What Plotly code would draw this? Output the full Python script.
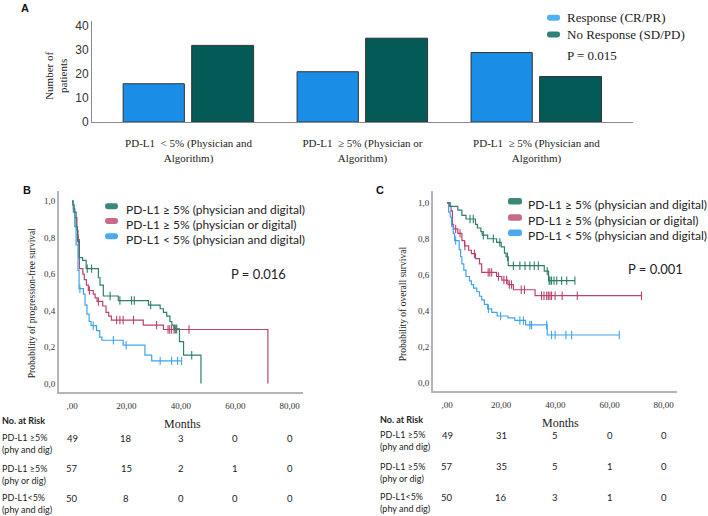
import plotly.graph_objects as go

W, H = 708, 516

# ---------------- Panel A data ----------------
groups_A = [
    "PD-L1  < 5% (Physician and<br>Algorithm)",
    "PD-L1  \u2265 5% (Physician or<br>Algorithm)",
    "PD-L1  \u2265 5% (Physician and<br>Algorithm)",
]
response_A = [16, 21, 29]
no_response_A = [32, 35, 19]
yticks_A = [0, 10, 20, 30, 40]

# ---------------- Panel B (PFS) data ----------------
pfs_and_t = [0.3, 0.8, 1.5, 2.0, 2.6, 3.9, 5.2, 9.7, 10.3, 11.5, 17.0, 28.1, 32.4, 33.6, 34.8, 36.0, 36.7, 37.5, 39.5, 41.0, 47.4]
pfs_and_s = [0.98, 0.94, 0.86, 0.78, 0.69, 0.675, 0.63, 0.58, 0.54, 0.48, 0.455, 0.43, 0.41, 0.39, 0.37, 0.34, 0.32, 0.30, 0.23, 0.155, 0.0]
pfs_and_cens = [5.6, 7.2, 14.0, 17.6, 21.9, 22.9, 28.9, 37.9, 38.5, 44.0]

pfs_or_t = [0.5, 1.0, 1.8, 2.2, 2.7, 4.0, 4.5, 5.3, 6.0, 7.8, 8.5, 9.2, 11.3, 12.5, 13.5, 14.5, 26.2, 33.6, 72.0]
pfs_or_s = [0.96, 0.91, 0.84, 0.79, 0.63, 0.60, 0.57, 0.54, 0.51, 0.49, 0.47, 0.45, 0.425, 0.39, 0.37, 0.348, 0.32, 0.296, 0.0]
pfs_or_cens = [2.3, 6.4, 9.7, 16.4, 17.6, 18.8, 22.6, 31.1, 35.3, 35.9, 36.6, 37.5, 38.2, 43.0]

pfs_low_t = [0.5, 1.0, 1.5, 2.2, 2.6, 4.2, 4.8, 5.5, 6.3, 7.0, 9.0, 10.2, 11.0, 18.8, 26.8, 29.3]
pfs_low_s = [0.94, 0.86, 0.76, 0.62, 0.52, 0.49, 0.43, 0.38, 0.34, 0.317, 0.29, 0.254, 0.237, 0.21, 0.156, 0.124]
pfs_low_cens = [2.9, 7.8, 15.2, 19.9, 32.4, 36.6, 38.8, 40.3]

# ---------------- Panel C (OS) data ----------------
os_and_t = [1.2, 4.0, 5.5, 7.0, 10.5, 11.2, 12.5, 13.0, 15.0, 18.3, 20.0, 21.2, 21.8, 22.6, 35.9, 37.5]
os_and_s = [0.98, 0.96, 0.93, 0.91, 0.88, 0.86, 0.84, 0.82, 0.80, 0.78, 0.755, 0.72, 0.70, 0.65, 0.62, 0.567]
os_and_cens = [8.5, 9.7, 13.4, 17.1, 19.5, 22.3, 24.5, 26.9, 28.8, 30.6, 32.2, 33.7, 37.0, 37.7, 38.0, 38.6, 39.5, 40.5, 42.3, 44.2, 47.2]

os_or_t = [0.8, 1.5, 2.0, 2.4, 4.0, 5.5, 6.5, 8.0, 9.0, 10.5, 12.0, 12.8, 18.3, 20.2, 22.5, 24.5, 32.5]
os_or_s = [0.98, 0.955, 0.88, 0.855, 0.83, 0.79, 0.76, 0.736, 0.717, 0.69, 0.66, 0.613, 0.59, 0.57, 0.545, 0.516, 0.483]
os_or_cens = [3.2, 4.8, 6.6, 10.1, 15.2, 15.8, 16.5, 19.0, 21.0, 22.0, 23.0, 23.8, 27.4, 28.6, 34.9, 35.8, 36.8, 37.4, 38.0, 38.6, 39.9, 42.5, 48.1, 71.8]

os_low_t = [0.6, 1.2, 1.7, 2.3, 2.8, 4.5, 5.0, 5.5, 6.2, 7.0, 8.3, 9.0, 9.8, 11.0, 12.0, 12.8, 13.8, 15.0, 16.5, 18.5, 22.5, 25.0, 29.0, 37.0]
os_low_s = [0.95, 0.92, 0.87, 0.83, 0.79, 0.74, 0.70, 0.66, 0.625, 0.59, 0.565, 0.545, 0.525, 0.505, 0.48, 0.46, 0.435, 0.41, 0.39, 0.37, 0.36, 0.345, 0.32, 0.264]
os_low_cens = [3.2, 15.3, 19.8, 26.9, 28.2, 30.6, 31.2, 36.8, 38.6, 39.9, 43.9, 46.0, 63.6]

km_ticks = [0, 20, 40, 60, 80]
km_ticktext = [",00", "20,00", "40,00", "60,00", "80,00"]
surv_ticks = [0, 0.2, 0.4, 0.6, 0.8, 1.0]
surv_ticktext = ["0,0", "0,2", "0,4", "0,6", "0,8", "1,0"]

legend_labels = [
    "PD-L1 \u2265 5% (physician and digital)",
    "PD-L1 \u2265 5% (physician or digital)",
    "PD-L1 < 5% (physician and digital)",
]
risk_labels = ["PD-L1 \u22655%<br>(phy and dig)", "PD-L1 \u22655%<br>(phy or dig)", "PD-L1<5%<br>(phy and dig)"]
risk_B = [[49, 18, 3, 0, 0], [57, 15, 2, 1, 0], [50, 8, 0, 0, 0]]
risk_C = [[49, 31, 5, 0, 0], [57, 35, 5, 1, 0], [50, 16, 3, 1, 0]]

# ---------------- styling ----------------
SERIF = "Liberation Serif"
SANS = "Lato"
ARIAL = "Liberation Sans"
C_RESP = "#1a8de6"
C_NORESP = "#045a56"
KM_COLS = ["#2f7d6d", "#b8436f", "#40a4ea"]
SW_COLS = ["#3a8878", "#c9698c", "#4aa9ef"]
LATO_SHIFT = -3  # Lato renders slightly high


def X(x):
    return x / W


def Y(y):
    return 1 - y / H


def step_xy(times, surv):
    xs = [0.0] + list(times)
    ys = [1.0] + list(surv)
    return xs, ys


def surv_at(times, surv, t):
    s = 1.0
    for ti, si in zip(times, surv):
        if ti <= t:
            s = si
    return s


fig = go.Figure()

# Panel A bars
fig.add_trace(go.Bar(x=[0, 1, 2], y=response_A, width=0.352, offset=-0.376,
                     marker=dict(color=C_RESP, line=dict(color="#333333", width=1)),
                     xaxis="x", yaxis="y", showlegend=False))
fig.add_trace(go.Bar(x=[0, 1, 2], y=no_response_A, width=0.356, offset=0.018,
                     marker=dict(color=C_NORESP, line=dict(color="#333333", width=1)),
                     xaxis="x", yaxis="y", showlegend=False))


# KM curves
def add_km(times, surv, cens, color, xa, ya, t_end=None):
    xs, ys = step_xy(times, surv)
    if t_end is not None and t_end > xs[-1]:
        xs.append(t_end)
        ys.append(ys[-1])
    fig.add_trace(go.Scatter(x=xs, y=ys, mode="lines", line=dict(color=color, width=1.2, shape="hv"),
                             xaxis=xa, yaxis=ya, showlegend=False, hoverinfo="skip"))
    cy = [surv_at(times, surv, t) for t in cens]
    fig.add_trace(go.Scatter(x=cens, y=cy, mode="markers",
                             marker=dict(symbol="line-ns", size=6, line=dict(color=color, width=1.1)),
                             xaxis=xa, yaxis=ya, showlegend=False, hoverinfo="skip"))


add_km(pfs_or_t, pfs_or_s, pfs_or_cens, KM_COLS[1], "x2", "y2")
add_km(pfs_low_t, pfs_low_s, pfs_low_cens, KM_COLS[2], "x2", "y2", t_end=max(pfs_low_cens))
add_km(pfs_and_t, pfs_and_s, pfs_and_cens, KM_COLS[0], "x2", "y2")

add_km(os_or_t, os_or_s, os_or_cens, KM_COLS[1], "x3", "y3", t_end=max(os_or_cens))
add_km(os_low_t, os_low_s, os_low_cens, KM_COLS[2], "x3", "y3", t_end=max(os_low_cens))
add_km(os_and_t, os_and_s, os_and_cens, KM_COLS[0], "x3", "y3", t_end=max(os_and_cens))

axis_common = dict(showgrid=False, zeroline=False, showline=True, fixedrange=True)

fig.update_layout(
    width=W, height=H, margin=dict(l=0, r=0, t=0, b=0),
    paper_bgcolor="white", plot_bgcolor="white", barmode="overlay",
    xaxis=dict(domain=[X(92), X(633)], range=[-0.555, 2.555], tickvals=[0, 1, 2], ticktext=groups_A,
               linecolor="#8a8a8a", linewidth=1, ticks="outside", ticklen=11, tickcolor="rgba(0,0,0,0)",
               tickfont=dict(family=SERIF, size=11, color="#222"), anchor="y", **axis_common),
    yaxis=dict(domain=[Y(123), Y(20)], range=[0, 42.3], tickvals=yticks_A,
               linecolor="#8a8a8a", linewidth=1, ticks="", tickfont=dict(family=ARIAL, size=12, color="#333"),
               anchor="x", **axis_common),
    xaxis2=dict(domain=[X(59), X(303)], range=[-4.78, 84.9], tickvals=km_ticks, ticktext=km_ticktext,
                linecolor="#b5b5b5", linewidth=2, ticks="outside", ticklen=4, tickcolor="rgba(0,0,0,0)",
                tickfont=dict(family=SERIF, size=9, color="#333"), anchor="y2", **axis_common),
    yaxis2=dict(domain=[Y(397), Y(193)], range=[-0.046, 1.056], tickvals=surv_ticks, ticktext=surv_ticktext,
                linecolor="#b5b5b5", linewidth=2, ticks="", tickfont=dict(family=SERIF, size=9, color="#333"),
                anchor="x2", **axis_common),
    xaxis3=dict(domain=[X(433), X(677)], range=[-5.17, 84.9], tickvals=km_ticks, ticktext=km_ticktext,
                linecolor="#b5b5b5", linewidth=2, ticks="outside", ticklen=4, tickcolor="rgba(0,0,0,0)",
                tickfont=dict(family=SERIF, size=9, color="#333"), anchor="y3", **axis_common),
    yaxis3=dict(domain=[Y(396), Y(193)], range=[-0.047, 1.066], tickvals=surv_ticks, ticktext=surv_ticktext,
                linecolor="#b5b5b5", linewidth=2, ticks="", tickfont=dict(family=SERIF, size=9, color="#333"),
                anchor="x3", **axis_common),
)

ann = []
shapes = []


def text(x, y, s, size, family, color="#222", xanchor="left", angle=0, bold=False, **kw):
    if bold:
        s = "<b>" + s + "</b>"
    ys = LATO_SHIFT if family == SANS else 0
    ann.append(dict(x=X(x), y=Y(y), xref="paper", yref="paper", text=s, showarrow=False,
                    xanchor=xanchor, yanchor="middle", textangle=angle, yshift=ys,
                    font=dict(size=size, family=family, color=color), **kw))


def rrect(x0, y0, x1, y1, r, color):
    p = (f"M {X(x0 + r)},{Y(y0)} L {X(x1 - r)},{Y(y0)} Q {X(x1)},{Y(y0)} {X(x1)},{Y(y0 + r)} "
         f"L {X(x1)},{Y(y1 - r)} Q {X(x1)},{Y(y1)} {X(x1 - r)},{Y(y1)} L {X(x0 + r)},{Y(y1)} "
         f"Q {X(x0)},{Y(y1)} {X(x0)},{Y(y1 - r)} L {X(x0)},{Y(y0 + r)} Q {X(x0)},{Y(y0)} {X(x0 + r)},{Y(y0)} Z")
    shapes.append(dict(type="path", path=p, xref="paper", yref="paper", fillcolor=color, line=dict(width=0)))


# Panel letters
text(25, 7, "A", 11, ARIAL, "#111", xanchor="center", bold=True)
text(27, 192, "B", 11, ARIAL, "#111", xanchor="center", bold=True)
text(380, 192, "C", 11, ARIAL, "#111", xanchor="center", bold=True)

# Panel A y title and legend
text(56, 76, "Number of<br>patients", 11, SERIF, "#222", xanchor="center", angle=-90)
rrect(547, 14, 560, 20, 2.5, "#4fb0f2")
rrect(547, 31, 560, 37, 2.5, "#2e7f78")
text(565, 17, "Response (CR/PR)", 13, SERIF, "#222")
text(565, 34, "No Response (SD/PD)", 13, SERIF, "#222")
text(565, 55, "P = 0.015", 13, SERIF, "#222")

# Panel B extras
text(32, 307, "Probability of progression-free survival", 9.5, SERIF, "#222", xanchor="center", angle=-90)
text(182, 430, "Months", 12, SERIF, "#222", xanchor="center")
for i, lab in enumerate(legend_labels):
    yy = [208.5, 223.5, 239][i]
    rrect(105, yy - 3, 118, yy + 3, 2.5, SW_COLS[i])
    text(124, yy, lab, 12, SANS, "#222")
text(258, 274, "P = 0.016", 13, SANS, "#222", xanchor="center")

# Panel C extras
text(403, 308, "Probability of overall survival", 9.5, SERIF, "#222", xanchor="center", angle=-90)
text(560, 429, "Months", 12, SERIF, "#222", xanchor="center")
for i, lab in enumerate(legend_labels):
    yy = [203.5, 220, 235.5][i]
    rrect(508, yy - 3.3, 522, yy + 3.3, 2.5, SW_COLS[i])
    text(526, yy, lab, 12, SANS, "#222")
text(655, 269, "P = 0.001", 13, SANS, "#222", xanchor="center")


# Risk tables
def risk_table(x_lab, y_head, row_y, data, xa):
    text(x_lab, y_head, "No. at Risk", 9, SANS, "#222", bold=True)
    for i in range(3):
        text(x_lab, row_y[i] + 5.5, risk_labels[i], 9, SANS, "#222", align="left")
        for t, v in zip(km_ticks, data[i]):
            ann.append(dict(x=t, y=Y(row_y[i]), xref=xa, yref="paper", text=str(v), showarrow=False,
                            xanchor="center", yanchor="middle", yshift=LATO_SHIFT,
                            font=dict(size=9.5, family=SANS, color="#222")))


risk_table(0, 423, [441, 472, 502], risk_B, "x2")
risk_table(378, 422, [438, 470, 501], risk_C, "x3")

fig.update_layout(annotations=ann, shapes=shapes)
fig.write_html("out.html", config={"displayModeBar": False},
               post_script="document.body.style.margin='0px';document.body.style.overflow='hidden';")
